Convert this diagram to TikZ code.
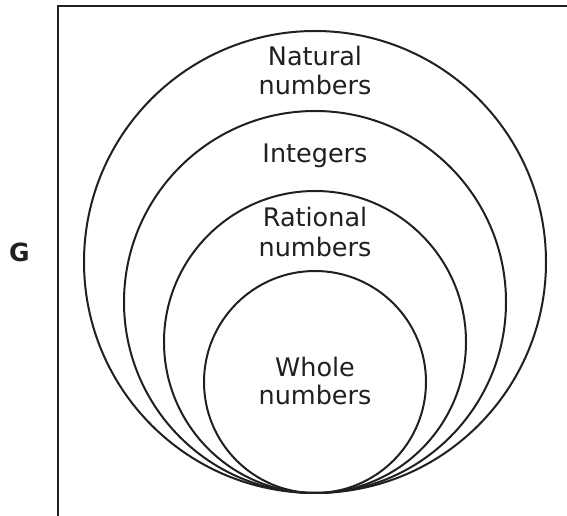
\documentclass[tikz,border=0pt]{standalone}
\usepackage{fontspec}
\setmainfont{DejaVu Sans}
\definecolor{ink}{HTML}{231F20}
\begin{document}
\begin{tikzpicture}[x=1pt,y=1pt,
  ring/.style={circle,draw=ink,line width=2pt,inner sep=0pt},
  lbl/.style={anchor=base,text=ink,inner sep=0pt,font=\fontsize{25.5}{30}\selectfont},
  tag/.style={anchor=base,text=ink,inner sep=0pt,font=\fontsize{25}{30}\selectfont\bfseries}]
\useasboundingbox (0,0) rectangle (567,516);
\clip (0,0) rectangle (567,516);
\fill[white] (0,0) rectangle (567,516);
% frame (cut by the picture edge)
\coordinate (fb) at (58,-5);
\coordinate (ftl) at (58,509.5);
\coordinate (fr) at (580,509.5);
\draw[ink,line width=2pt] (fb) -- (ftl) -- (fr);
% nested circles, all touching at the bottom
\node[ring,minimum size=462pt] (natural) at (315,254) {};
\node[ring,minimum size=382pt] (integers) at (315,214) {};
\node[ring,minimum size=302pt] (rational) at (315,174) {};
\node[ring,minimum size=222pt] (whole) at (315,134) {};
% labels
\node[lbl] (nat1) at (315,450) {Natural};
\node[lbl] (nat2) at (315,421) {numbers};
\node[lbl] (int1) at (315,353) {Integers};
\node[lbl] (rat1) at (315,289) {Rational};
\node[lbl] (rat2) at (315,259.5) {numbers};
\node[lbl] (who1) at (315,139) {Whole};
\node[lbl] (who2) at (315,111) {numbers};
\node[tag] (g) at (19.5,254) {G};
\end{tikzpicture}
\end{document}
